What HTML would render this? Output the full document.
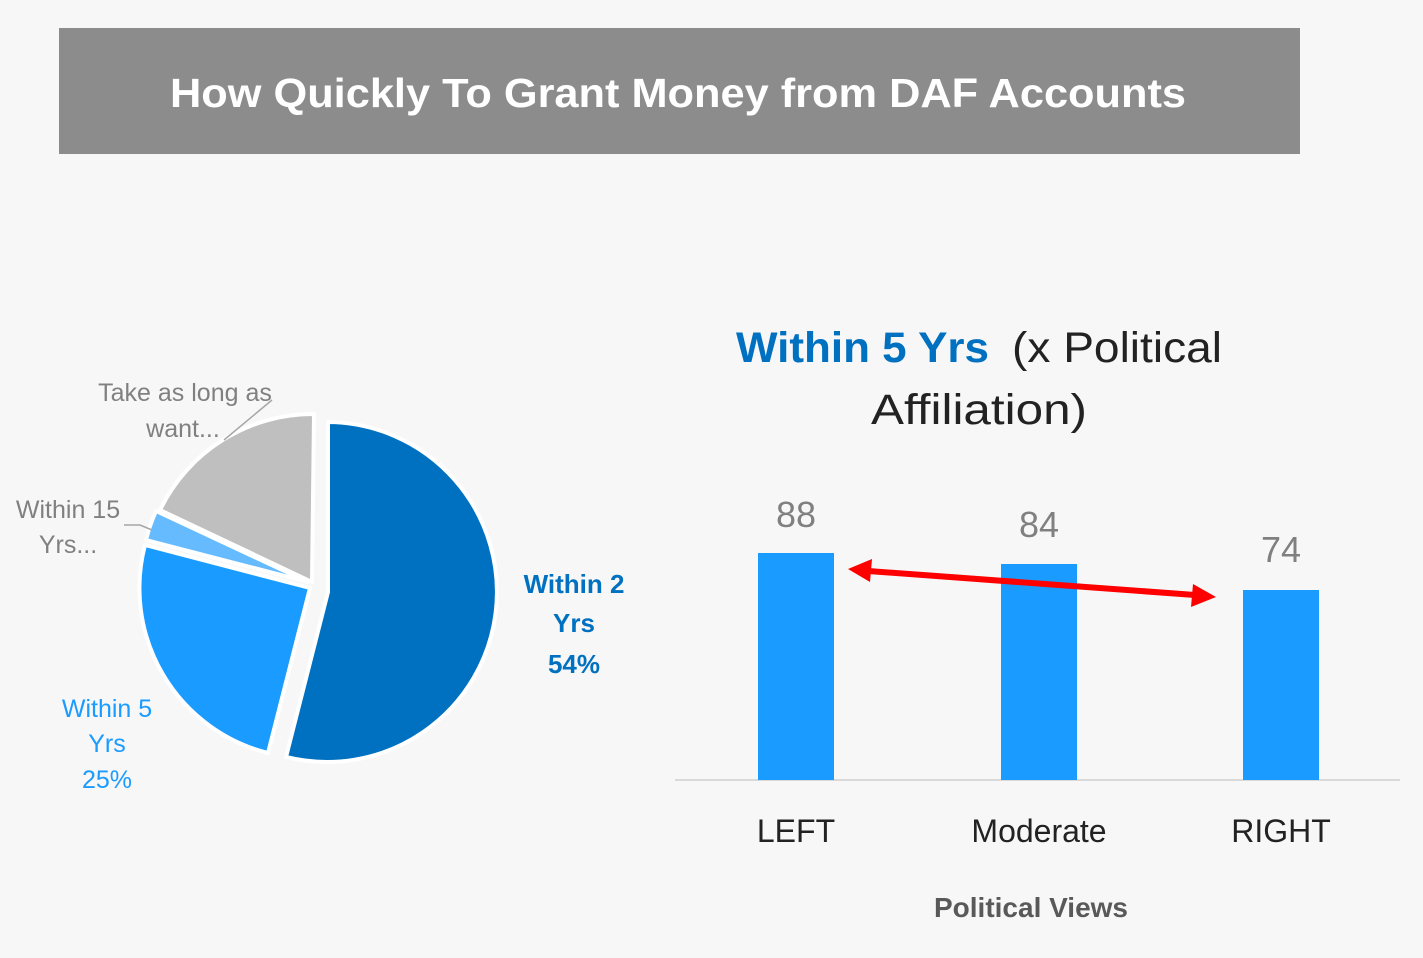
<!DOCTYPE html>
<html><head><meta charset="utf-8"><style>
html,body{margin:0;padding:0;background:#f7f7f7;}
svg{display:block;}
text{font-family:"Liberation Sans",sans-serif;}
</style></head><body>
<svg width="1423" height="958" viewBox="0 0 1423 958" xmlns="http://www.w3.org/2000/svg">
<rect width="1423" height="958" fill="#f7f7f7"/>
<rect x="59" y="28" width="1241" height="126" fill="#8c8c8c"/>
<text x="678" y="107" text-anchor="middle" font-size="41" font-weight="bold" fill="#fff" textLength="1016" lengthAdjust="spacingAndGlyphs">How Quickly To Grant Money from DAF Accounts</text>

<!-- pie -->
<g stroke="#fff" stroke-width="4" stroke-linejoin="round">
<path d="M328,592 L328,422 A170,170 0 1 1 286,757 Z" fill="#0070c0"/>
<path d="M310,588 L268,753 A170,170 0 0 1 145,545 Z" fill="#1a9bff"/>
<path d="M308,582 L146,540 A170,170 0 0 1 156,511 Z" fill="#66bbff"/>
<path d="M312,582 L160,510 A170,170 0 0 1 314,414 Z" fill="#bfbfbf"/>
</g>
<polyline points="224,440 272,400" stroke="#a6a6a6" stroke-width="1.5" fill="none"/>
<polyline points="124,525 140,525 152,530" stroke="#a6a6a6" stroke-width="1.5" fill="none"/>
<g font-size="25" fill="#808080" text-anchor="middle">
<text x="185" y="401">Take as long as</text>
<text x="183" y="437">want...</text>
<text x="68" y="518">Within 15</text>
<text x="68" y="553">Yrs...</text>
</g>
<g font-size="26" font-weight="bold" fill="#0070c0" text-anchor="middle">
<text x="574" y="593">Within 2</text>
<text x="574" y="632">Yrs</text>
<text x="574" y="673">54%</text>
</g>
<g font-size="25" fill="#1a9bff" text-anchor="middle">
<text x="107" y="717">Within 5</text>
<text x="107" y="752">Yrs</text>
<text x="107" y="788">25%</text>
</g>

<!-- bar chart -->
<text x="736" y="362" font-size="43" font-weight="bold" fill="#0070c0" textLength="253" lengthAdjust="spacingAndGlyphs">Within 5 Yrs</text>
<text x="1012" y="362" font-size="43" fill="#222" textLength="210" lengthAdjust="spacingAndGlyphs">(x Political</text>
<text x="871" y="424" font-size="43" fill="#222" textLength="216" lengthAdjust="spacingAndGlyphs">Affiliation)</text>

<line x1="675" y1="780" x2="1400" y2="780" stroke="#d9d9d9" stroke-width="2"/>
<rect x="758" y="553" width="76" height="227" fill="#1a9bff"/>
<rect x="1001" y="564" width="76" height="216" fill="#1a9bff"/>
<rect x="1243" y="590" width="76" height="190" fill="#1a9bff"/>
<g font-size="36" fill="#808080" text-anchor="middle">
<text x="796" y="527">88</text>
<text x="1039" y="537">84</text>
<text x="1281" y="562">74</text>
</g>
<g font-size="32" fill="#222" text-anchor="middle">
<text x="796" y="842">LEFT</text>
<text x="1039" y="842">Moderate</text>
<text x="1281" y="842">RIGHT</text>
</g>
<text x="1031" y="917" font-size="28" font-weight="bold" fill="#595959" text-anchor="middle">Political Views</text>

<!-- arrow -->
<line x1="868" y1="571" x2="1195" y2="595" stroke="#ff0000" stroke-width="6"/>
<polygon points="848,569 872,559 870,582" fill="#ff0000"/>
<polygon points="1216,597 1191,607 1193,584" fill="#ff0000"/>
</svg>
</body></html>
